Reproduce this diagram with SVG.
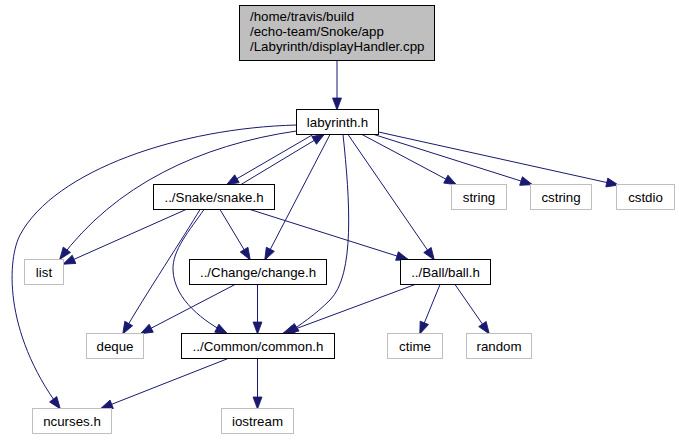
<svg xmlns="http://www.w3.org/2000/svg" width="679" height="440" viewBox="0 0 679 440">
<style>
text{font-family:"Liberation Sans",Arial,sans-serif;font-size:13.3px;fill:#000}
.n rect{fill:#fff;stroke:#000;stroke-width:1}
.g rect{fill:#fff;stroke:#bfbfbf;stroke-width:1}
.e path{fill:none;stroke:#191970;stroke-width:1;marker-end:url(#a)}
.c{text-anchor:middle}
</style>
<defs>
<marker id="a" markerUnits="userSpaceOnUse" markerWidth="12" markerHeight="9" refX="11.5" refY="4.5" orient="auto" overflow="visible">
<path d="M0,0 L12,4.5 L0,9 z" fill="#191970" stroke="#191970" stroke-width="0.8"/>
</marker>
</defs>
<rect width="679" height="440" fill="#fff"/>
<g class="e" id="edges">
<path d="M337,60.5 L337,109.5"/>
<path d="M313,134.5 L227,184.5"/>
<path d="M241,184.5 L324,134.5"/>
<path d="M296.5,131 C 200,145 115,185 60,259"/>
<path d="M296.5,125 C 180,128 55,170 20,235 C 8,258 2,330 60,408.5"/>
<path d="M330,134.5 L265,259.5"/>
<path d="M343,134.5 C 350,200 355,275 330,300 C 315,315 300,325 287,333.5"/>
<path d="M348,134.5 L434,259.5"/>
<path d="M362,134.5 L456,184.5"/>
<path d="M374,134.5 L532,184.5"/>
<path d="M378.5,132 L618,185"/>
<path d="M186,209.5 L63.5,264"/>
<path d="M200,209.5 C 185,235 145,295 123,333.5"/>
<path d="M204,209.5 C 190,230 172,250 173,270 C 174,300 205,322 227,333.5"/>
<path d="M220,209.5 L250,259.5"/>
<path d="M250,209.5 L408,259.5"/>
<path d="M235,284.5 L141,333.5"/>
<path d="M257.5,284.5 L257.5,333.5"/>
<path d="M415,284.5 L283,333.5"/>
<path d="M440,284.5 L420,333.5"/>
<path d="M455,284.5 L489,333.5"/>
<path d="M228,358.5 L101,408.5"/>
<path d="M257.5,358.5 L257.5,408.5"/>
</g>
<g id="node_display">
<rect x="239.5" y="5.5" width="195" height="55" fill="#bfbfbf" stroke="#000"/>
<text x="250" y="20.5">/home/travis/build</text>
<text x="250" y="35.5">/echo-team/Snoke/app</text>
<text x="250" y="50.5">/Labyrinth/displayHandler.cpp</text>
</g>
<g class="n" id="node_labyrinth"><rect x="296.5" y="109.5" width="82" height="25"/><text class="c" x="337.5" y="126.5">labyrinth.h</text></g>
<g class="n" id="node_snake"><rect x="153.5" y="184.5" width="121" height="25"/><text class="c" x="214" y="201.5">../Snake/snake.h</text></g>
<g class="g" id="node_string"><rect x="451.5" y="184.5" width="55" height="25"/><text class="c" x="479" y="201.5">string</text></g>
<g class="g" id="node_cstring"><rect x="530.5" y="184.5" width="61" height="25"/><text class="c" x="561" y="201.5">cstring</text></g>
<g class="g" id="node_cstdio"><rect x="616.5" y="184.5" width="58" height="25"/><text class="c" x="645.5" y="201.5">cstdio</text></g>
<g class="g" id="node_list"><rect x="24.5" y="259.5" width="39" height="25"/><text class="c" x="44" y="276.5">list</text></g>
<g class="n" id="node_change"><rect x="189.5" y="259.5" width="137" height="25"/><text class="c" x="258" y="276.5">../Change/change.h</text></g>
<g class="n" id="node_ball"><rect x="400.5" y="259.5" width="90" height="25"/><text class="c" x="445.5" y="276.5">../Ball/ball.h</text></g>
<g class="g" id="node_deque"><rect x="86.5" y="333.5" width="57" height="25"/><text class="c" x="115" y="350.5">deque</text></g>
<g class="n" id="node_common"><rect x="181.5" y="333.5" width="153" height="25"/><text class="c" x="258" y="350.5">../Common/common.h</text></g>
<g class="g" id="node_ctime"><rect x="387.5" y="333.5" width="55" height="25"/><text class="c" x="415" y="350.5">ctime</text></g>
<g class="g" id="node_random"><rect x="466.5" y="333.5" width="65" height="25"/><text class="c" x="499" y="350.5">random</text></g>
<g class="g" id="node_ncurses"><rect x="32.5" y="408.5" width="79" height="25"/><text class="c" x="72" y="425.5">ncurses.h</text></g>
<g class="g" id="node_iostream"><rect x="221.5" y="408.5" width="72" height="25"/><text class="c" x="257.5" y="425.5">iostream</text></g>
</svg>
